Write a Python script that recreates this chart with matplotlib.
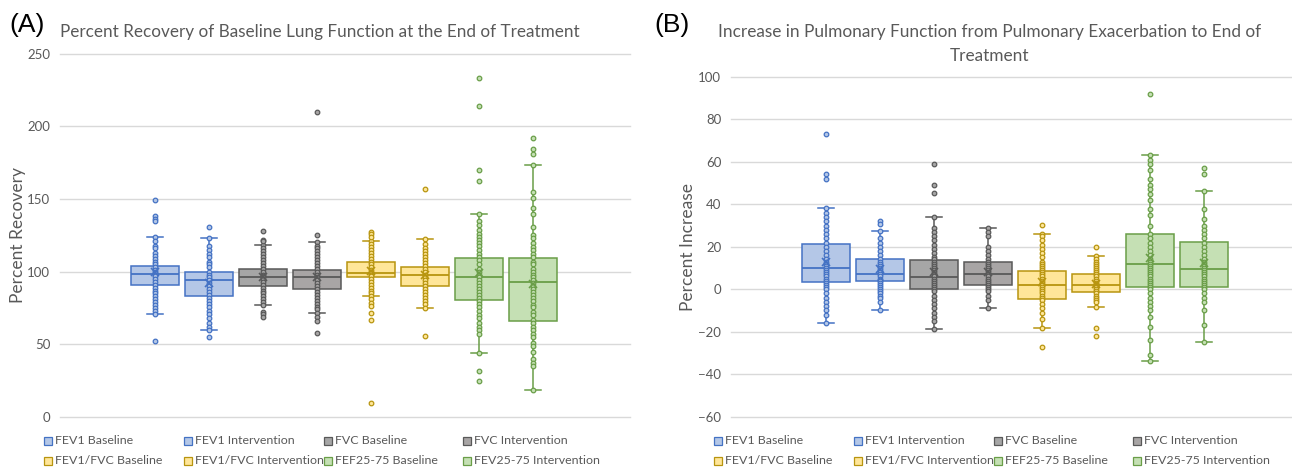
import matplotlib
matplotlib.use('Agg')
import matplotlib.pyplot as plt
from matplotlib.patches import Rectangle

plt.rcParams['font.family'] = ['Lato', 'DejaVu Sans']

# ---------------- data ----------------
series_names = ["FEV1 Baseline", "FEV1 Intervention", "FVC Baseline", "FVC Intervention",
                "FEV1/FVC Baseline", "FEV1/FVC Intervention", "FEF25-75 Baseline", "FEV25-75 Intervention"]

# Panel A: percent recovery (box statistics)
A_q1 = [90.9, 83.6, 90.4, 88.4, 96.2, 90.4, 80.4, 65.9]
A_med = [98.3, 94.4, 96.6, 96.2, 99.2, 98.0, 96.2, 93.0]
A_q3 = [104.2, 99.9, 101.9, 101.2, 106.5, 103.3, 109.3, 109.3]
A_lo = [70.9, 59.9, 76.9, 71.4, 83.3, 75.1, 44.3, 18.6]
A_hi = [124.0, 123.0, 118.5, 120.3, 121.2, 122.4, 139.8, 173.3]
A_mean = [100.0, 92.5, 96.0, 96.0, 100.5, 97.5, 99.0, 91.6]

# Panel A: individual points
A_fev1_base = [124, 121, 118, 116, 113, 111, 109, 107, 105, 103, 101, 100, 99, 98, 97, 95, 93, 91,
               89, 87, 85, 83, 81, 79, 77, 75, 73, 71, 149, 138, 136.5, 135, 52.6]
A_fev1_int = [123, 118, 115, 112, 110, 107, 105, 103, 100, 98, 96, 94, 92, 90, 88, 86, 84, 82, 80,
              78, 76, 73, 71, 68, 65, 62, 60, 131, 55]
A_fvc_base = [118.5, 116, 114, 112, 110, 108, 106, 104, 102, 100, 98, 97, 96, 95, 93, 91, 89, 87,
              85, 83, 81, 79, 77, 127.9, 122, 121, 72.5, 70.9, 69.1]
A_fvc_int = [120.3, 118, 116, 114, 112, 110, 108, 106, 104, 102, 100, 98, 96, 94, 92, 90, 88, 86,
             84, 82, 80, 78, 76, 74, 71.5, 125.3, 209.6, 69, 65.9, 58]
A_ratio_base = [121.2, 119, 117, 115, 113, 111, 109, 107, 105, 103, 101, 100, 99, 98, 97, 95, 93, 91,
                89, 87, 85, 83.3, 127.2, 125.6, 124, 81, 78.7, 76.7, 71.8, 67, 9.4]
A_ratio_int = [122.4, 119, 116, 114, 112, 110, 108, 106, 104, 102, 100, 98, 96, 94, 92, 90, 88, 86,
               84, 82, 80, 78, 75.1, 157.2, 56]
A_fef_base = [139.8, 135, 132, 129, 126, 124, 122, 120, 118, 115, 112, 110, 108, 105, 102, 100, 98,
              96, 94, 92, 90, 88, 86, 84, 82, 80, 78, 76, 73, 70, 68, 65, 62, 60, 57, 44.3,
              233.5, 213.7, 169.9, 162.3, 31.7, 24.8]
A_fef_int = [173.3, 155, 151, 144, 140, 131, 125, 123, 120, 117, 115, 112, 110, 107, 105, 102, 100, 98,
             96, 94, 92, 90, 88, 86, 84, 82, 80, 77, 76, 72, 70, 67, 65, 62, 60, 57, 55, 51, 49, 45,
             40, 37, 35, 18.6, 192.1, 184.3, 180.9]

# Panel B: percent increase (box statistics)
B_q1 = [3.6, 3.9, 0.0, 1.9, -4.4, -1.3, 0.9, 0.9]
B_med = [10.0, 7.0, 5.9, 7.0, 1.9, 1.9, 11.9, 9.4]
B_q3 = [21.2, 14.1, 13.8, 12.7, 8.8, 7.1, 26.0, 22.1]
B_lo = [-16.0, -10.0, -18.8, -9.0, -18.1, -8.2, -34.0, -24.9]
B_hi = [38.3, 27.3, 34.0, 28.8, 26.0, 15.8, 63.0, 46.1]
B_mean = [13.0, 9.4, 8.3, 8.3, 3.3, 2.5, 14.9, 12.2]

# Panel B: individual points
B_fev1_base = [38.3, 36, 34, 32, 30, 28, 26, 24, 22, 20, 18, 16, 14, 13, 12, 11, 10, 9, 8, 7, 6, 5, 4,
               3, 2, 1, 0, -2, -4, -6, -8, -10, -12, -16, 73.1, 54.4, 52]
B_fev1_int = [27.3, 24, 22, 20, 18, 16, 14, 13, 12, 11, 10, 9, 8, 7, 6, 5, 4.5, 4, 3, 2, 1, 0, -1, -2,
              -3, -4, -6, -10, 32.3, 30.7]
B_fvc_base = [34, 29, 27, 25, 23, 21, 19, 17, 15, 14, 13, 12, 11, 10, 9, 8, 7, 6, 5, 4, 3, 2, 1, 0, -1,
              -3, -5, -7, -9, -11, -13, -15, -18.8, 59.1, 49.2, 45.2]
B_fvc_int = [28.8, 27, 25, 20, 18, 16, 14, 13, 12, 11, 10, 9, 8, 7, 6, 5, 4, 3, 2, 1, 0, -1, -3, -5, -9]
B_ratio_base = [26, 25, 23, 21, 19, 17, 15, 13, 12, 11, 10, 9, 8, 7, 6, 5, 4, 3, 2, 1, 0, -1, -2, -3, -4,
                -5, -7, -9, -11, -14, -18.1, 30.1, -27]
B_ratio_int = [15.8, 14, 13, 12, 11, 10, 9, 8, 7, 6, 5, 4, 3, 2.5, 2, 1.5, 1, 0, -1, -2, -3, -4, -5, -6,
               -8.2, 20, -18.1, -22]
B_fef_base = [63, 61, 59, 56, 52, 49, 47, 45, 42, 38, 35, 30, 26, 24, 22, 20, 18, 16, 14, 13, 12, 11, 10,
              9, 8, 7, 6, 5, 4, 3, 2, 1, 0, -2, -4, -6, -8, -10, -13, -18, -24, -31, -34, 92]
B_fef_int = [46.1, 38, 33, 30, 28, 26, 24, 22, 20, 18, 16, 14, 13, 12, 11, 10, 9, 8, 7, 6, 5, 4, 3, 2, 1,
             0, -2, -4, -6, -10, -17, -24.9, 57, 54.1]

A_points = [A_fev1_base, A_fev1_int, A_fvc_base, A_fvc_int, A_ratio_base, A_ratio_int, A_fef_base, A_fef_int]
B_points = [B_fev1_base, B_fev1_int, B_fvc_base, B_fvc_int, B_ratio_base, B_ratio_int, B_fef_base, B_fef_int]

A_yticks = [0, 50, 100, 150, 200, 250]
B_yticks = [-60, -40, -20, 0, 20, 40, 60, 80, 100]

# ---------------- style ----------------
fills = ['#b4c7e7', '#b4c7e7', '#a6a6a6', '#a8a5a5', '#ffe699', '#ffe699', '#c5e0b4', '#c5e0b4']
edges = ['#4472c4', '#4472c4', '#595959', '#595959', '#b8950f', '#b8950f', '#6a9e48', '#6a9e48']
TXT = '#595959'
GRID = '#d9d9d9'

W, H = 1292, 468
fig = plt.figure(figsize=(W / 100, H / 100), dpi=100)


def fx(x):
    return x / W


def fy(y):
    return 1 - y / H


def draw_panel(ax, points, q1, med, q3, lo, hi, mean, yticks):
    for i in range(len(points)):
        st = dict(q1=q1[i], med=med[i], q3=q3[i], whislo=lo[i], whishi=hi[i],
                  mean=mean[i], fliers=[])
        ax.bxp([st], positions=[i], widths=0.9, patch_artist=True, showmeans=True,
               showfliers=False, manage_ticks=False, capwidths=0.3,
               boxprops=dict(facecolor=fills[i], edgecolor=edges[i], linewidth=1.1),
               medianprops=dict(color=edges[i], linewidth=1.3),
               whiskerprops=dict(color=edges[i], linewidth=1.1),
               capprops=dict(color=edges[i], linewidth=1.1),
               meanprops=dict(marker='x', markeredgecolor=edges[i], markersize=6,
                              markeredgewidth=1.2, zorder=6))
        ax.plot([i] * len(points[i]), points[i], 'o', ms=3.3, mfc=fills[i], mec=edges[i],
                mew=0.9, zorder=5, linestyle='none')
    ax.set_yticks(yticks)
    ax.set_ylim(yticks[0], yticks[-1])
    ax.yaxis.grid(True, color=GRID, linewidth=1.0)
    for gl in ax.get_ygridlines():
        gl.set_clip_on(False)
    ax.set_axisbelow(True)
    for s in ax.spines.values():
        s.set_visible(False)
    ax.set_xticks([])
    ax.tick_params(axis='y', length=0, pad=7, labelsize=9.5, labelcolor=TXT)


# Panel A
axA = fig.add_axes([fx(60), fy(417), fx(630) - fx(60), fy(53.7) - fy(417)])
draw_panel(axA, A_points, A_q1, A_med, A_q3, A_lo, A_hi, A_mean, A_yticks)
axA.set_xlim((60 - 155) / 54, (630 - 155) / 54)

# Panel B
axB = fig.add_axes([fx(731), fy(416.7), fx(1292) - fx(731), fy(76.8) - fy(416.7)])
draw_panel(axB, B_points, B_q1, B_med, B_q3, B_lo, B_hi, B_mean, B_yticks)
axB.set_xlim((731 - 826) / 54, (1292 - 826) / 54)

# Titles and labels
fig.text(fx(9), fy(25), '(A)', fontsize=19, family='Liberation Sans', va='center', ha='left', color='black')
fig.text(fx(60), fy(32), 'Percent Recovery of Baseline Lung Function at the End of Treatment',
         fontsize=12.3, color=TXT, va='center', ha='left')
fig.text(fx(654), fy(25), '(B)', fontsize=19, family='Liberation Sans', va='center', ha='left', color='black')
fig.text(fx(990), fy(32), 'Increase in Pulmonary Function from Pulmonary Exacerbation to End of',
         fontsize=12.4, color=TXT, va='center', ha='center')
fig.text(fx(990), fy(56), 'Treatment', fontsize=12.4, color=TXT, va='center', ha='center')
fig.text(fx(18), fy(235), 'Percent Recovery', rotation=90, fontsize=12.5, color=TXT, va='center', ha='center')
fig.text(fx(688), fy(247), 'Percent Increase', rotation=90, fontsize=12.5, color=TXT, va='center', ha='center')

# Legends (row-major, as in the reference)
legend_cols = {'A': [44, 184, 324, 463], 'B': [714, 854, 994, 1133]}
legend_rows = [441, 461]
sq = 8
for key in ['A', 'B']:
    for j, name in enumerate(series_names):
        r, c = divmod(j, 4)
        x0 = legend_cols[key][c]
        y0 = legend_rows[r]
        fig.patches.append(Rectangle((fx(x0), fy(y0 + sq / 2)), sq / W, sq / H,
                                     transform=fig.transFigure, facecolor=fills[j],
                                     edgecolor=edges[j], linewidth=0.9))
        fig.text(fx(x0 + sq + 3), fy(y0), name, fontsize=8.9, color=TXT, va='center', ha='left')

fig.savefig('out.png', dpi=100, facecolor='white')
